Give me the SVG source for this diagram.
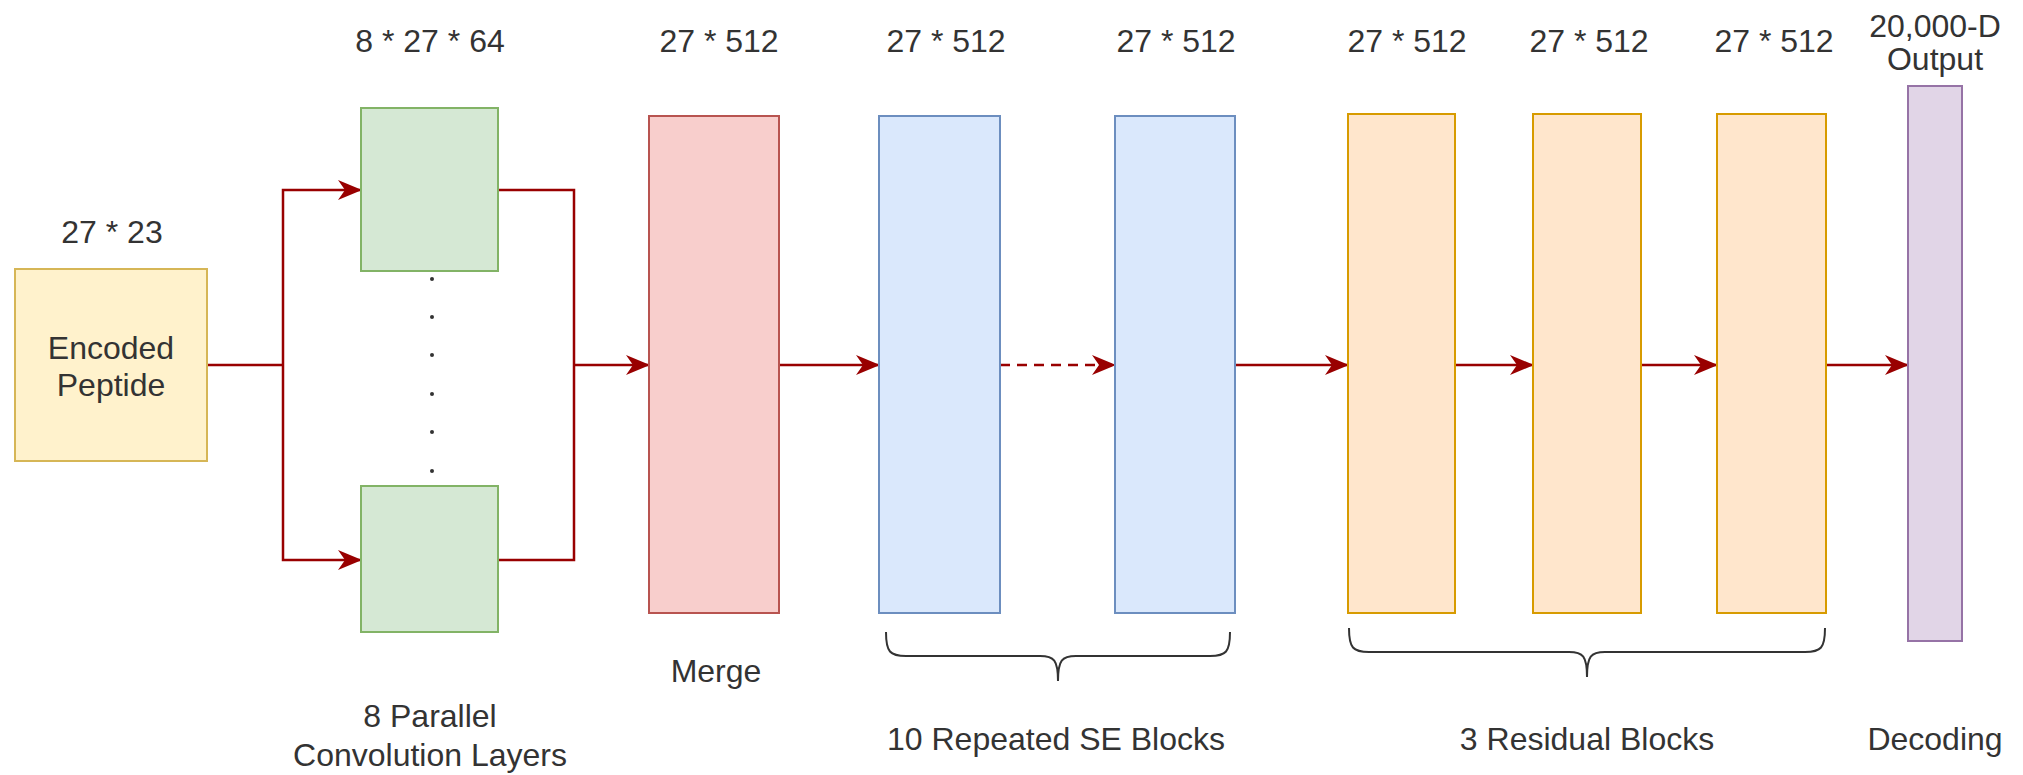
<svg xmlns="http://www.w3.org/2000/svg" width="2023" height="775" viewBox="0 0 2023 775">
<style>
  text { font-family: "Liberation Sans", Arial, Helvetica, sans-serif; font-size: 32px; fill: #333333; text-anchor: middle; }
  .box { stroke-width: 2; }
  .yellow { fill: #fff2cc; stroke: #d6b656; }
  .green { fill: #d5e8d4; stroke: #82b366; }
  .red { fill: #f8cecc; stroke: #b85450; }
  .blue { fill: #dae8fc; stroke: #6c8ebf; }
  .orange { fill: #ffe6cc; stroke: #d79b00; }
  .purple { fill: #e1d5e7; stroke: #9673a6; }
  .conn { fill: none; stroke: #990000; stroke-width: 2.5; }
  .arrow { marker-end: url(#arr); }
  .dashed { stroke-dasharray: 10 7; }
  .brace { fill: none; stroke: #333333; stroke-width: 2; }
  .dot { fill: #333333; }
</style>
<defs>
  <marker id="arr" markerUnits="userSpaceOnUse" markerWidth="24" markerHeight="24" refX="23" refY="12" orient="auto">
    <path d="M0,2 L24,12 L0,22 L7,12 Z" fill="#990000"/>
  </marker>
</defs>

<g id="connectors">
  <path class="conn" d="M206,365 L283,365"/>
  <path class="conn arrow" d="M283,365 L283,190 L361,190"/>
  <path class="conn arrow" d="M283,365 L283,560 L361,560"/>
  <path class="conn" d="M498,190 L574,190 L574,560 L498,560"/>
  <path class="conn arrow" d="M574,365 L649,365"/>
  <path class="conn arrow" d="M779,365 L879,365"/>
  <path class="conn arrow dashed" d="M1000,365 L1115,365"/>
  <path class="conn arrow" d="M1235,365 L1348,365"/>
  <path class="conn arrow" d="M1455,365 L1533,365"/>
  <path class="conn arrow" d="M1641,365 L1717,365"/>
  <path class="conn arrow" d="M1826,365 L1908,365"/>
</g>

<g id="input">
  <text x="112" y="243">27 * 23</text>
  <rect class="box yellow" x="15" y="269" width="192" height="192"/>
  <text x="111" y="359">Encoded</text>
  <text x="111" y="396">Peptide</text>
</g>

<g id="conv">
  <text x="430" y="52">8 * 27 * 64</text>
  <rect class="box green" x="361" y="108" width="137" height="163"/>
  <rect class="box green" x="361" y="486" width="137" height="146"/>
  <circle class="dot" cx="432" cy="279" r="2"/>
  <circle class="dot" cx="432" cy="317" r="2"/>
  <circle class="dot" cx="432" cy="355" r="2"/>
  <circle class="dot" cx="432" cy="394" r="2"/>
  <circle class="dot" cx="432" cy="432" r="2"/>
  <circle class="dot" cx="432" cy="471" r="2"/>
  <text x="430" y="727">8 Parallel</text>
  <text x="430" y="766">Convolution Layers</text>
</g>

<g id="merge">
  <text x="719" y="52">27 * 512</text>
  <rect class="box red" x="649" y="116" width="130" height="497"/>
  <text x="716" y="682">Merge</text>
</g>

<g id="se1">
  <text x="946" y="52">27 * 512</text>
  <rect class="box blue" x="879" y="116" width="121" height="497"/>
</g>
<g id="se2">
  <text x="1176" y="52">27 * 512</text>
  <rect class="box blue" x="1115" y="116" width="120" height="497"/>
</g>
<g id="se-brace">
  <path class="brace" d="M886,632 C886,652 890,656 906,656 L1040,656 C1054,656 1058,660 1058,681 C1058,660 1062,656 1076,656 L1210,656 C1226,656 1230,652 1230,632"/>
  <text x="1056" y="750">10 Repeated SE Blocks</text>
</g>

<g id="res1">
  <text x="1407" y="52">27 * 512</text>
  <rect class="box orange" x="1348" y="114" width="107" height="499"/>
</g>
<g id="res2">
  <text x="1589" y="52">27 * 512</text>
  <rect class="box orange" x="1533" y="114" width="108" height="499"/>
</g>
<g id="res3">
  <text x="1774" y="52">27 * 512</text>
  <rect class="box orange" x="1717" y="114" width="109" height="499"/>
</g>
<g id="res-brace">
  <path class="brace" d="M1349,628 C1349,648 1353,652 1369,652 L1569,652 C1583,652 1587,656 1587,677 C1587,656 1591,652 1605,652 L1805,652 C1821,652 1825,648 1825,628"/>
  <text x="1587" y="750">3 Residual Blocks</text>
</g>

<g id="output">
  <text x="1935" y="37">20,000-D</text>
  <text x="1935" y="70">Output</text>
  <rect class="box purple" x="1908" y="86" width="54" height="555"/>
  <text x="1935" y="750">Decoding</text>
</g>
</svg>
